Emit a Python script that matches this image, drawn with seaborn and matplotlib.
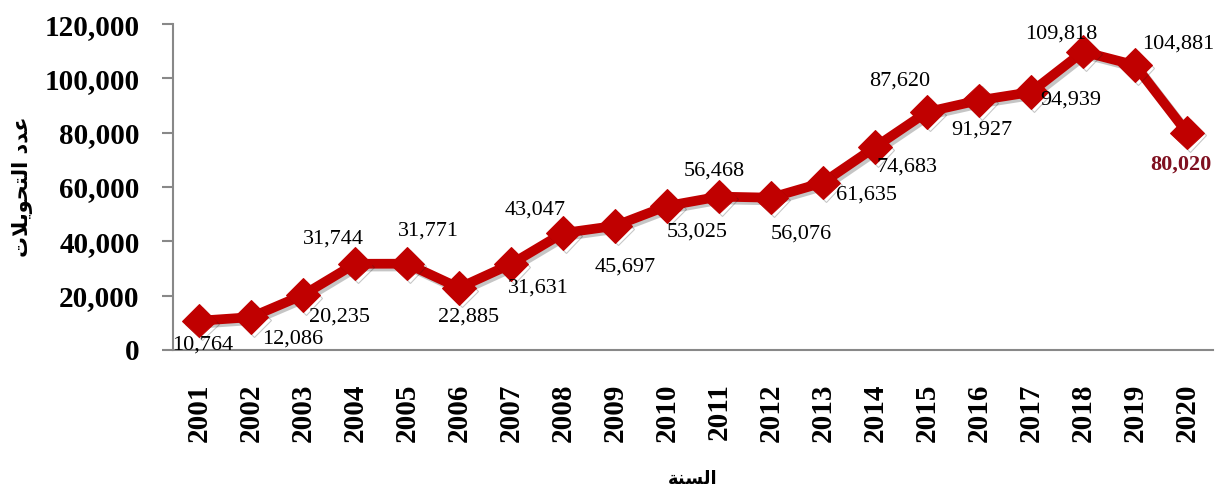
import seaborn as sns
import matplotlib.pyplot as plt
import pandas as pd
import matplotlib.patheffects as pe

sns.set_theme(style='white')
plt.rcParams['font.family'] = ['Liberation Serif', 'DejaVu Sans']

years = [str(y) for y in range(2001, 2021)]
transfers = [10764, 12086, 20235, 31744, 31771, 22885, 31631, 43047, 45697, 53025,
             56468, 56076, 61635, 74683, 87620, 91927, 94939, 109818, 104881, 80020]
# label offsets in pixels from each point
label_dx = [4, 42, 36, -22, 21, 10, 27, -28, 10, 30, -5, 30, 44, 32, -27, 3, 40, -22, 43, -6]
label_dy = [-24, -22, -22, 25, 33, -29, -24, 23, -41, -26, 26, -36, -12, -20, 31, -30, -8, 18, 21, -32]

# Arabic text pre-shaped (presentation forms, visual order)
ylabel = '\uFE95\uFEFC\uFEF3\uFEEE\uFEA4\uFE98\uFEDF\uFE8D \uFEA9\uFEAA\uFECB'  # عدد التحويلات
xlabel = '\uFE94\uFEE8\uFEB4\uFEDF\uFE8D'  # السنة

df = pd.DataFrame({'year': years, 'value': transfers})

fig = plt.figure(figsize=(12.22, 5.01), dpi=100)
ax = fig.add_axes([0.1416, 0.3014, 0.851, 0.6506])

red = '#C00000'
sns.lineplot(ax=ax, data=df, x='year', y='value', color=red, linewidth=7,
             marker='D', markersize=17, markeredgecolor=red, sort=False,
             path_effects=[pe.SimpleLineShadow(offset=(2, -2), alpha=0.25), pe.Normal()])

for i, (v, dx, dy) in enumerate(zip(transfers, label_dx, label_dy)):
    last = i == len(transfers) - 1
    ax.annotate(f'{v:,}', (i, v), xytext=(dx, dy), textcoords='offset pixels',
                ha='center', va='center', fontsize=16,
                fontweight='bold' if last else 'normal',
                color='#7F1020' if last else 'black')

ax.set_xlim(-0.5, 19.5)
ax.set_ylim(0, 120000)
ax.set_yticks(range(0, 120001, 20000))
ax.set_yticklabels([f'{t:,}' for t in range(0, 120001, 20000)], fontsize=21,
                   fontweight='bold', color='black')
ax.set_xticks(range(len(years)))
ax.set_xticklabels(years, rotation=90, fontsize=21, fontweight='bold', color='black')
ax.tick_params(axis='y', length=8, width=1.5, color='#888888', direction='out', pad=16, left=True)
ax.tick_params(axis='x', length=0, pad=24)

for s in ['top', 'right']:
    ax.spines[s].set_visible(False)
for s in ['left', 'bottom']:
    ax.spines[s].set_color('#888888')
    ax.spines[s].set_linewidth(1.5)

ax.set_ylabel(ylabel, fontsize=15, fontweight='bold', family=['DejaVu Sans'],
              labelpad=8, color='black')
ax.set_xlabel(xlabel, fontsize=13, fontweight='bold', family=['DejaVu Sans'],
              labelpad=20, color='black')

plt.savefig('out.png', dpi=100)
